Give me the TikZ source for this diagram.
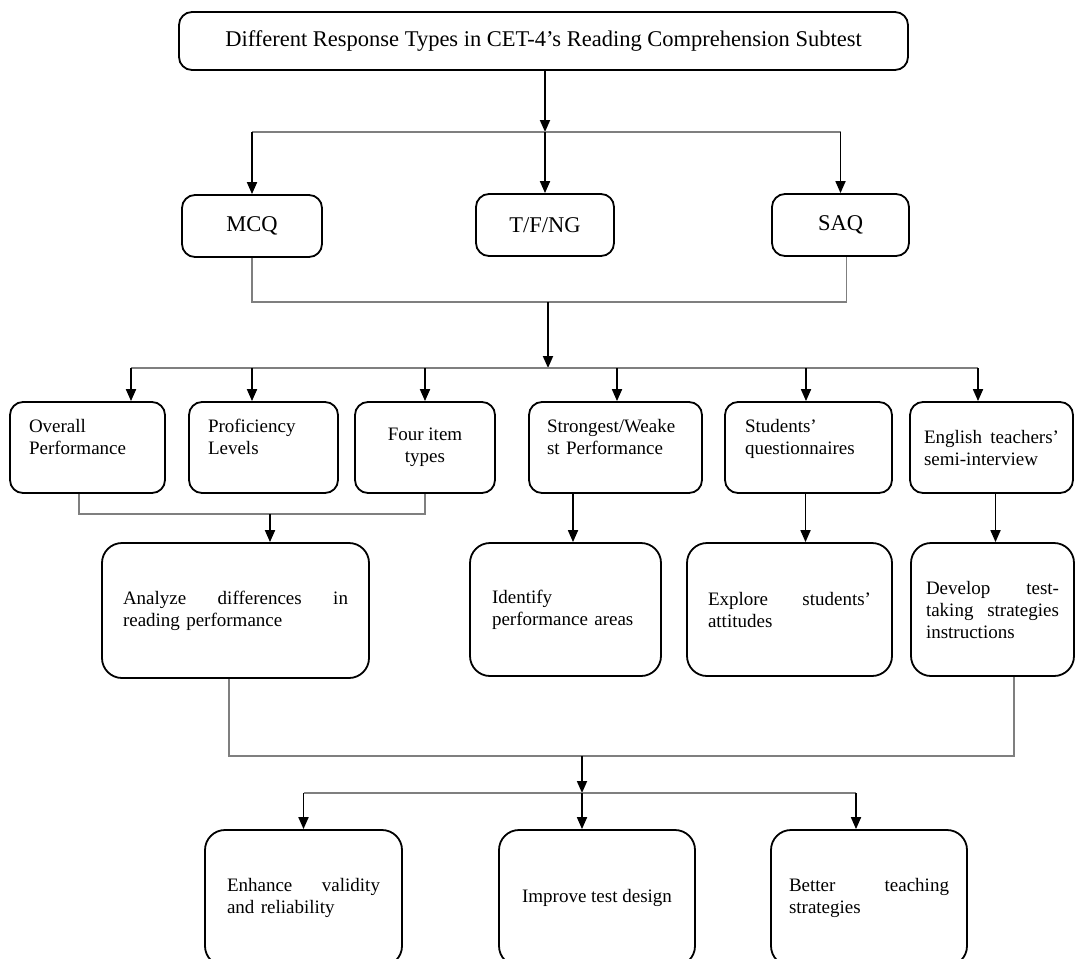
\documentclass[tikz,border=0pt]{standalone}
\usepackage{fontspec}
\setmainfont{Liberation Serif}
\usepackage{xcolor}
\definecolor{cMain}{HTML}{000000}
\definecolor{cBus}{HTML}{7F7F7F}
\usetikzlibrary{arrows.meta,calc}
\tikzset{
  node-box/.style={draw=cMain,line width=1.8pt,rounded corners=13pt,
    align=left,inner sep=0pt,font=\fontsize{19}{22}\selectfont},
  node-big/.style={node-box,rounded corners=20pt},
  node-head/.style={node-box,align=center,font=\fontsize{22.5}{26}\selectfont},
  % text sits in the upper half of the box
  node-up/.style={text depth=44pt},
  arrow/.style={-{Triangle[length=12pt,width=10pt]},line width=1.8pt,draw=cMain},
  bus/.style={line width=1.5pt,draw=cBus},
}

\begin{document}
\begin{tikzpicture}[x=1pt,y=-1pt]
  \path[use as bounding box] (0,0) rectangle (1075,958);

  \node[node-head,minimum width=729,minimum height=58] (title) at (543.5,41)
    {Different Response Types in CET-4’s Reading Comprehension Subtest};

  \node[node-head,minimum width=140,minimum height=62] (mcq)  at (252,226)   {MCQ};
  \node[node-head,minimum width=138,minimum height=62] (tfng) at (545,225)   {T/F/NG};
  \node[node-head,minimum width=137,minimum height=62] (saq)  at (840.5,225) {SAQ};

  \node[node-box,node-up,minimum width=155,minimum height=91,text width=117] (overall) at (87.5,447.5)
    {Overall\\Performance};
  \node[node-box,node-up,minimum width=149,minimum height=91,text width=111] (prof) at (263.5,447.5)
    {Proficiency\\Levels};
  \node[node-box,align=center,minimum width=140,minimum height=91] (four) at (425,447.5)
    {Four item\\types};
  \node[node-box,node-up,minimum width=173,minimum height=91,text width=137] (strong) at (615.5,447.5)
    {Strongest/Weake\\st Performance};
  \node[node-box,node-up,minimum width=167,minimum height=91,text width=127] (stud) at (808.5,447.5)
    {Students’\\questionnaires};
  \node[node-box,minimum width=163,minimum height=91,text width=135] (eng) at (991.5,447.5)
    {English\nobreak\hfill teachers’\\semi-interview};

  \node[node-big,minimum width=267,minimum height=135,text width=225] (analyze) at (235.5,610.5)
    {Analyze\nobreak\hfill differences\nobreak\hfill in\\reading performance};
  \node[node-big,minimum width=191,minimum height=133,text width=147] (identify) at (565.5,609.5)
    {Identify\\performance areas};
  \node[node-big,minimum width=205,minimum height=133,text width=163] (explore) at (789.5,609.5)
    {Explore\nobreak\hfill students’\\attitudes};
  \node[node-big,minimum width=163,minimum height=133,text width=133] (develop) at (992.5,609.5)
    {Develop\nobreak\hfill test-\\taking\nobreak\hfill strategies\\instructions};

  \node[node-big,minimum width=197,minimum height=136,text width=153] (enhance) at (303.5,898)
    {Enhance\nobreak\hfill validity\\and reliability};
  \node[node-big,align=center,minimum width=196,minimum height=136] (improve) at (597,898)
    {Improve test design};
  \node[node-big,minimum width=196,minimum height=136,text width=160] (better) at (869,898)
    {Better\nobreak\hfill teaching\\strategies};

  \coordinate (j1) at (545,132);
  \coordinate (j2) at (548,302);
  \coordinate (j3) at (548,368);
  \coordinate (j4) at (270,514);
  \coordinate (j5) at (582,756);
  \coordinate (j6) at (582,793);

  % title -> three response types
  \draw[arrow] (title.south -| j1) -- (j1);
  \draw[bus] (mcq.north |- j1) -- (saq.north |- j1);
  \foreach \n in {mcq,tfng,saq}
    \draw[arrow] (\n.north |- j1) -- (\n.north);

  % response types -> analyses
  \draw[bus] (mcq.south) |- (j2) -| ([xshift=6pt]saq.south);
  \draw[arrow] (j2) -- (j3);
  \draw[bus] ([xshift=43.5pt]overall.north |- j3) -- ([xshift=-13.5pt]eng.north |- j3);
  \foreach \n/\dx in {overall/43.5,prof/-11.5,four/0,strong/1.5,stud/-2.5,eng/-13.5}
    \draw[arrow] ([xshift=\dx pt]\n.north |- j3) -- ([xshift=\dx pt]\n.north);

  \draw[bus] ([xshift=-8.5pt]overall.south) |- (j4) -| (four.south);
  \draw[arrow] (j4) -- (j4 |- analyze.north);
  \draw[arrow] ([xshift=-42.5pt]strong.south) -- ([xshift=-42.5pt]strong.south |- identify.north);
  \draw[arrow] ([xshift=-3pt]stud.south) -- ([xshift=-3pt]stud.south |- explore.north);
  \draw[arrow] ([xshift=4pt]eng.south) -- ([xshift=4pt]eng.south |- develop.north);

  % findings -> implications
  \draw[bus] ([xshift=-6.5pt]analyze.south) |- (j5) -| ([xshift=21.5pt]develop.south);
  \draw[arrow] (j5) -- (j6);
  \draw[bus] (enhance.north |- j6) -- ([xshift=-13pt]better.north |- j6);
  \foreach \n/\dx in {enhance/0,improve/-15,better/-13}
    \draw[arrow] ([xshift=\dx pt]\n.north |- j6) -- ([xshift=\dx pt]\n.north);
\end{tikzpicture}
\end{document}
